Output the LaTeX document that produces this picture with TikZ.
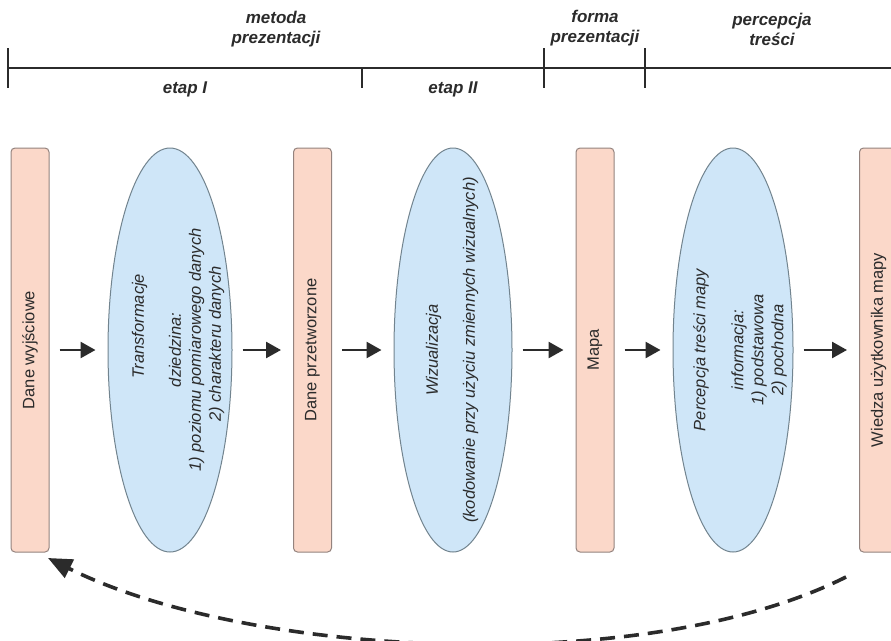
\documentclass[tikz,border=0pt]{standalone}
\usepackage{fontspec}
\setmainfont{Liberation Sans}
\usetikzlibrary{shapes.geometric,arrows.meta}
\definecolor{boxfill}{HTML}{FBD8C9}
\definecolor{boxline}{HTML}{94837E}
\definecolor{ovfill}{HTML}{CFE6F8}
\definecolor{ovline}{HTML}{72848F}
\definecolor{ink}{HTML}{2B2B2B}
\begin{document}
\begin{tikzpicture}[x=1pt,y=-1pt,
  stagebox/.style={draw=boxline, line width=1pt, fill=boxfill, rounded corners=4pt, rotate=90,
    minimum width=404pt, minimum height=38pt, inner sep=0pt, text=ink,
    font=\fontsize{16.5}{20}\selectfont},
  oval/.style={ellipse, draw=ovline, line width=1pt, fill=ovfill, rotate=90,
    minimum width=404pt, inner sep=0pt},
  ovtext/.style={rotate=90, align=center, text=ink, inner sep=0pt,
    font=\fontsize{16.5}{20}\selectfont\itshape},
  toplabel/.style={align=center, text=ink, inner sep=0pt,
    font=\fontsize{17}{20}\selectfont\bfseries\itshape},
  axisline/.style={line width=2.6pt, draw=ink},
  arr/.style={-{Triangle[length=15pt,width=16pt]}, line width=2.6pt, draw=ink,
    shorten <=10pt, shorten >=12pt},
  back/.style={-{Triangle[length=24pt,width=20pt]}, line width=3.6pt, draw=ink,
    dash pattern=on 15pt off 9pt}
]
\useasboundingbox (0,0) rectangle (891,640);
\clip (0,0) rectangle (891,640);
\fill[white] (0,0) rectangle (891,640);

% timeline
\draw[axisline] (8,68) -- (895,68);
\draw[axisline] (8,48) -- (8,88);
\draw[axisline] (362,68) -- (362,88);
\draw[axisline] (544,48) -- (544,88);
\draw[axisline] (645,48) -- (645,88);

\node[toplabel] (lmet) at (276,29) {metoda\\prezentacji};
\node[toplabel] (lform) at (595,28) {forma\\prezentacji};
\node[toplabel] (lperc) at (772,29) {percepcja\\treści};
\node[toplabel] (let1) at (185,89) {etap I};
\node[toplabel] (let2) at (453,89) {etap II};

% stages
\node[stagebox] (r1) at (30,350) {Dane wyjściowe};
\node[oval, minimum height=124pt] (e1) at (170,350) {};
\node[ovtext] (e1t) at (178,350) {\hspace*{48pt}Transformacje\\[17pt]dziedzina:\hspace*{40pt}\\1) poziomu pomiarowego danych\\\hspace*{12pt}2) charakteru danych};
\node[stagebox] (r2) at (312.5,350) {Dane przetworzone};
\node[oval, minimum height=118pt] (e2) at (453,350) {};
\node[ovtext] (e2t) at (452,350) {Wizualizacja\\[17pt](kodowanie przy użyciu zmiennych wizualnych)};
\node[stagebox] (r3) at (595,350) {Mapa};
\node[oval, minimum height=120pt] (e3) at (733,350) {};
\node[ovtext] (e3t) at (740,350) {Percepcja treści mapy\\[18pt]informacja:\hspace*{34pt}\\1) podstawowa\\2) pochodna};
\node[stagebox] (r4) at (878.5,350) {Wiedza użytkownika mapy};

% flow arrows
\draw[arr] (r1) -- (e1);
\draw[arr] (e1) -- (r2);
\draw[arr] (r2) -- (e2);
\draw[arr] (e2) -- (r3);
\draw[arr] (r3) -- (e3);
\draw[arr] (e3) -- (r4);

% feedback
\coordinate (fbs) at (846,577);
\coordinate (fbe) at (48,558);
\draw[back] (fbs) .. controls (645,678) and (248,658) .. (fbe);
\end{tikzpicture}
\end{document}
